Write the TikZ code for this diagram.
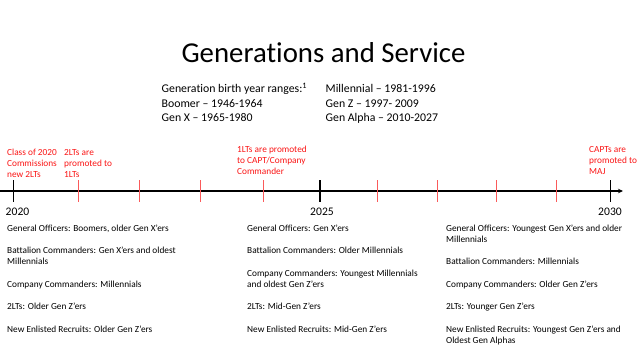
\documentclass[tikz,border=0pt]{standalone}
\usepackage{fontspec}
\setmainfont{Carlito}[Ligatures=NoCommon]
\usetikzlibrary{arrows.meta}
\definecolor{redtxt}{RGB}{250,20,20}
\definecolor{redtick}{RGB}{250,90,90}
\begin{document}
\begin{tikzpicture}[x=1pt,y=-1pt,
  ttlstyle/.style={inner sep=0pt,anchor=base,font=\fontsize{28.8}{34}\selectfont},
  rangetxt/.style={inner sep=0pt,anchor=base west,font=\fontsize{11.8}{14}\selectfont},
  redlbl/.style={inner sep=0pt,anchor=base west,text=redtxt,font=\fontsize{9.3}{11}\selectfont},
  yeartxt/.style={inner sep=0pt,anchor=base,font=\fontsize{11.6}{13}\selectfont},
  itemtxt/.style={inner sep=0pt,anchor=base west,font=\fontsize{9.3}{11}\selectfont},
  axisline/.style={line width=1.5pt,-{Stealth[length=5pt,width=4.5pt]}},
  majortick/.style={line width=1.5pt},
  minortick/.style={line width=0.8pt,draw=redtick}]
\useasboundingbox (0,0) rectangle (640,360);
% title
\node[ttlstyle] (ttl) at (323.5,62) {Generations and Service};
% birth year ranges
\node[rangetxt] (r1) at (161.5,92.5) {Generation birth year ranges:\textsuperscript{1}};
\node[rangetxt] (r2) at (161.5,107) {Boomer – 1946-1964};
\node[rangetxt] (r3) at (161.5,121.5) {Gen X – 1965-1980};
\node[rangetxt] (r4) at (325.5,92.5) {Millennial – 1981-1996};
\node[rangetxt] (r5) at (325.5,107) {Gen Z – 1997- 2009};
\node[rangetxt] (r6) at (325.5,121.5) {Gen Alpha – 2010-2027};
% axis
\coordinate (axL) at (0,191);
\coordinate (axR) at (623,191);
\draw[axisline] (axL) -- (axR);
\foreach \x in {13.3,320,610.7}{\draw[majortick] (\x,180) -- (\x,201.5);}
\foreach \x in {78,139,200,263,377,437,496,556}{\draw[minortick] (\x,180) -- (\x,202);}
% years
\node[yeartxt] (y1) at (17.5,215) {2020};
\node[yeartxt] (y2) at (322,215) {2025};
\node[yeartxt] (y3) at (610,215) {2030};
% red labels
\node[redlbl] (a1) at (7,155.3) {Class of 2020};
\node[redlbl] (a2) at (7,166.6) {Commissions};
\node[redlbl] (a3) at (7,177.9) {new 2LTs};
\node[redlbl] (b1) at (64,155.3) {2LTs are};
\node[redlbl] (b2) at (64,166.6) {promoted to};
\node[redlbl] (b3) at (64,177.9) {1LTs};
\node[redlbl] (c1) at (237,152.3) {1LTs are promoted};
\node[redlbl] (c2) at (237,163.6) {to CAPT/Company};
\node[redlbl] (c3) at (237,174.9) {Commander};
\node[redlbl] (d1) at (589,152.3) {CAPTs are};
\node[redlbl] (d2) at (589,163.6) {promoted to};
\node[redlbl] (d3) at (589,174.9) {MAJ};
% column 1 (2020)
\node[itemtxt] (p1) at (7,231.3) {General Officers: Boomers, older Gen X’ers};
\node[itemtxt] (p2) at (7,253.7) {Battalion Commanders: Gen X’ers and oldest};
\node[itemtxt] (p3) at (7,264.9) {Millennials};
\node[itemtxt] (p4) at (7,287.3) {Company Commanders: Millennials};
\node[itemtxt] (p5) at (7,309.7) {2LTs: Older Gen Z’ers};
\node[itemtxt] (p6) at (7,332.1) {New Enlisted Recruits: Older Gen Z’ers};
% column 2 (2025)
\node[itemtxt] (q1) at (247,231.3) {General Officers: Gen X’ers};
\node[itemtxt] (q2) at (247,253.7) {Battalion Commanders: Older Millennials};
\node[itemtxt] (q3) at (247,276.1) {Company Commanders: Youngest Millennials};
\node[itemtxt] (q4) at (247,287.3) {and oldest Gen Z’ers};
\node[itemtxt] (q5) at (247,309.7) {2LTs: Mid-Gen Z’ers};
\node[itemtxt] (q6) at (247,332.1) {New Enlisted Recruits: Mid-Gen Z’ers};
% column 3 (2030)
\node[itemtxt] (s1) at (446,231.3) {General Officers: Youngest Gen X’ers and older};
\node[itemtxt] (s2) at (446,242.5) {Millennials};
\node[itemtxt] (s3) at (446,264.9) {Battalion Commanders: Millennials};
\node[itemtxt] (s4) at (446,287.3) {Company Commanders: Older Gen Z’ers};
\node[itemtxt] (s5) at (446,309.7) {2LTs: Younger Gen Z’ers};
\node[itemtxt] (s6) at (446,332.1) {New Enlisted Recruits: Youngest Gen Z’ers and};
\node[itemtxt] (s7) at (446,343.3) {Oldest Gen Alphas};
\end{tikzpicture}
\end{document}
